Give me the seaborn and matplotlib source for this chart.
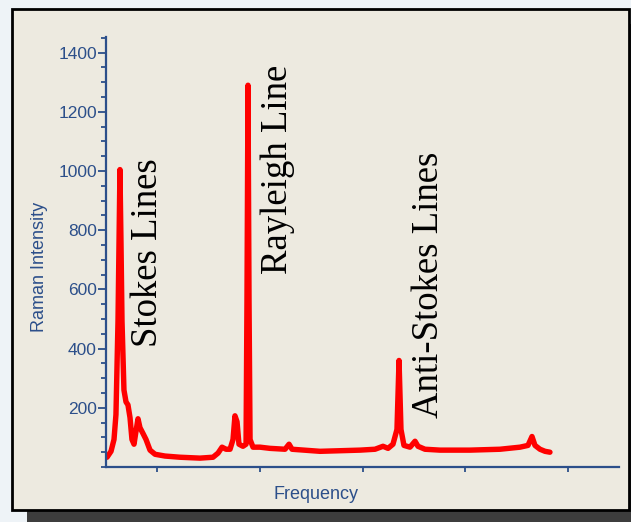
import matplotlib
matplotlib.use("Agg")
import matplotlib.pyplot as plt
from matplotlib.patches import Rectangle
from matplotlib.ticker import MultipleLocator
import seaborn as sns

# -----------------------------
# DATA
# -----------------------------

frequency = [
    1, 4.9, 7.8, 9.7, 11.7, 12.7, 13.6, 14.6, 15.6, 17.5, 19.5, 21.4, 23.4,
    25.3, 27.3, 29.2, 31.2, 33.1, 36.1, 39, 42.9, 47.8, 57.5, 72.1, 91.6,
    104.3, 109.2, 113.1, 117, 120.9, 123.8, 125.7, 127.7, 129.6, 133.5,
    136.5, 137.4, 138.4, 139.4, 140.4, 143.3, 150.1, 159.8, 174.5, 178.4,
    181.3, 208.6, 247.6, 262.2, 270, 274.9, 279.7, 283.6, 285.6, 287.5,
    290.4, 296.3, 301.2, 304.1, 310.9, 325.5, 354.8, 384, 403.5, 411.3,
    415.2, 418.1, 423, 427.9, 432.7
]

intensity = [
    33, 53, 93, 177, 493, 760, 1005, 760, 493, 260, 220, 210, 167,
    93, 77, 120, 163, 133, 113, 93, 57, 43, 37, 33, 30,
    33, 47, 67, 60, 60, 93, 173, 153, 77, 70,
    77, 560, 1290, 560, 93, 67, 67, 63, 60, 77,
    60, 53, 57, 60, 70, 63, 77, 127, 360, 127,
    73, 67, 87, 70, 60, 57, 57, 60, 67, 73,
    103, 73, 60, 53, 50
]

y_ticks = [200, 400, 600, 800, 1000, 1200, 1400]

labels = ["Stokes Lines", "Rayleigh Line", "Anti-Stokes Lines"]
label_pos = [(41, 725), (167.6, 1005), (314.8, 615)]

# -----------------------------
# STYLE
# -----------------------------

BLUE = "#2c4f8a"
BOX = "#edeae0"

sns.set_style("ticks")
plt.rcParams["font.family"] = ["Liberation Sans", "DejaVu Sans"]

W, H = 631, 522
fig = plt.figure(figsize=(W / 100, H / 100), dpi=100)
fig.patch.set_facecolor("#eef3f7")

# shadow + framed box (drawn beneath the axes)
fig.patches.append(Rectangle((27 / W, 1 - 525 / H), 617 / W, 501 / H,
                             transform=fig.transFigure, facecolor="#3d3d3d",
                             edgecolor="none", zorder=-2))
fig.patches.append(Rectangle((12 / W, 1 - 510 / H), 617 / W, 501 / H,
                             transform=fig.transFigure, facecolor=BOX,
                             edgecolor="black", linewidth=2, zorder=-1))

ax = fig.add_axes([106 / W, (H - 467) / H, 513 / W, 430 / H])
ax.set_zorder(2)
ax.set_facecolor("none")

sns.lineplot(x=frequency, y=intensity, ax=ax, color="#ff0000",
             linewidth=3.9, sort=False, estimator=None,
             solid_capstyle="round", solid_joinstyle="round")

ax.set_xlim(0, 500)
ax.set_ylim(0, 1453)

for sp in ["top", "right"]:
    ax.spines[sp].set_visible(False)
for sp in ["left", "bottom"]:
    ax.spines[sp].set_color(BLUE)
    ax.spines[sp].set_linewidth(1.6)

ax.set_yticks(y_ticks)
ax.yaxis.set_minor_locator(MultipleLocator(50))
ax.set_xticks([50, 150, 250, 350, 450])
ax.set_xticklabels([])

ax.tick_params(axis="y", which="major", length=5.5, width=1.3, color=BLUE,
               labelcolor=BLUE, labelsize=12.5, pad=1)
ax.tick_params(axis="y", which="minor", length=3.5, width=1.3, color=BLUE)
ax.tick_params(axis="x", which="major", length=3.5, width=1.3, color=BLUE)

ax.set_ylabel("Raman Intensity", color=BLUE, fontsize=13)
ax.yaxis.set_label_coords(-0.1287, 0.465)
ax.set_xlabel("Frequency", color=BLUE, fontsize=13)
ax.xaxis.set_label_coords(0.409, -0.065)
ax.xaxis.label.set_va("center")
ax.yaxis.label.set_va("center")

for text, (tx, ty) in zip(labels, label_pos):
    ax.text(tx, ty, text, rotation=90, ha="center", va="center",
            fontsize=26.5, family=["Liberation Serif", "DejaVu Serif"],
            color="black")

fig.savefig("out.png", dpi=100, facecolor=fig.get_facecolor())
